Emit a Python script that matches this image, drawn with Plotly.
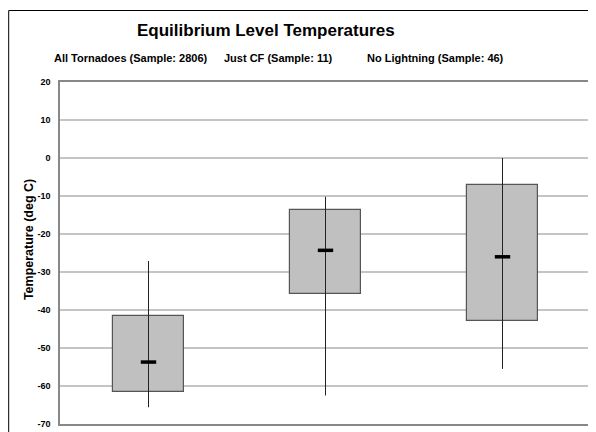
import plotly.graph_objects as go

categories = ["All Tornadoes", "Just CF", "No Lightning"]
cat_labels = ["All Tornadoes (Sample: 2806)", "Just CF (Sample: 11)", "No Lightning (Sample: 46)"]
q_low = [-61.7, -35.8, -43.0]     # box bottom
q_high = [-41.5, -13.6, -7.0]     # box top
median = [-53.7, -24.3, -26.0]
whisk_low = [-65.6, -62.5, -55.5]
whisk_high = [-27.1, -10.2, 0.0]
y_ticks = [20, 10, 0, -10, -20, -30, -40, -50, -60, -70]

FONT = "Liberation Sans, Arial, sans-serif"

fig = go.Figure()
fig.add_trace(go.Bar(
    x=categories,
    y=[h - l for h, l in zip(q_high, q_low)],
    base=q_low,
    width=0.4,
    marker=dict(color="#c0c0c0", line=dict(color="#555555", width=1.2)),
    hoverinfo="skip",
))
fig.add_trace(go.Scatter(
    x=categories,
    y=median,
    mode="markers",
    marker=dict(symbol="line-ew", size=11, line=dict(color="black", width=3.5)),
    error_y=dict(
        type="data", symmetric=False,
        array=[h - m for h, m in zip(whisk_high, median)],
        arrayminus=[m - l for m, l in zip(median, whisk_low)],
        thickness=1, width=0, color="#222222",
    ),
))

# page offset (browser body margin)
OFF = 8
W, H = 596, 432
L, R, T, B = 60 - OFF, W - (593 - OFF), 82 - OFF, H - (424 - OFF)
pw, ph = W - L - R, H - T - B

def px(x):
    return (x - OFF - L) / pw

def py(y):
    return (H - B - (y - OFF)) / ph

annotations = [
    dict(text="<b>Equilibrium Level Temperatures</b>", x=px(267), y=py(31), xref="paper", yref="paper",
         showarrow=False, font=dict(family=FONT, size=17, color="black"), xanchor="center", yanchor="middle"),
    dict(text="<b>Temperature (deg C)</b>", x=px(29), y=py(240), xref="paper", yref="paper", textangle=-90,
         showarrow=False, font=dict(family=FONT, size=12.5, color="black"),
         xanchor="center", yanchor="middle"),
]
for lab, cx in zip(cat_labels, [131, 279, 437]):
    annotations.append(dict(text="<b>" + lab + "</b>", x=px(cx), y=py(58), xref="paper", yref="paper",
                            showarrow=False, font=dict(family=FONT, size=11, color="black"),
                            xanchor="center", yanchor="middle"))

fig.update_layout(
    width=W, height=H,
    margin=dict(l=L, r=R, t=T, b=B),
    paper_bgcolor="white", plot_bgcolor="white",
    showlegend=False,
    annotations=annotations,
    shapes=[dict(type="rect", xref="paper", yref="paper", x0=px(8.5), x1=px(700), y0=py(500), y1=py(10.5),
                 line=dict(color="black", width=1), fillcolor="rgba(0,0,0,0)", layer="below")],
    xaxis=dict(type="category", range=[-0.5, 2.5], showticklabels=False, showgrid=False,
               showline=True, mirror=True, linecolor="#888888", linewidth=1.5, zeroline=False),
    yaxis=dict(range=[-70, 20], tickvals=y_ticks, ticktext=["<b>%d</b>" % v for v in y_ticks],
               showgrid=True, gridcolor="#c4c4c4", gridwidth=1.5, zeroline=False,
               showline=True, mirror=True, linecolor="#888888", linewidth=1.5,
               tickfont=dict(family=FONT, size=9, color="black"), ticklabelstandoff=6),
    bargap=0,
)

fig.write_html("out.html")
